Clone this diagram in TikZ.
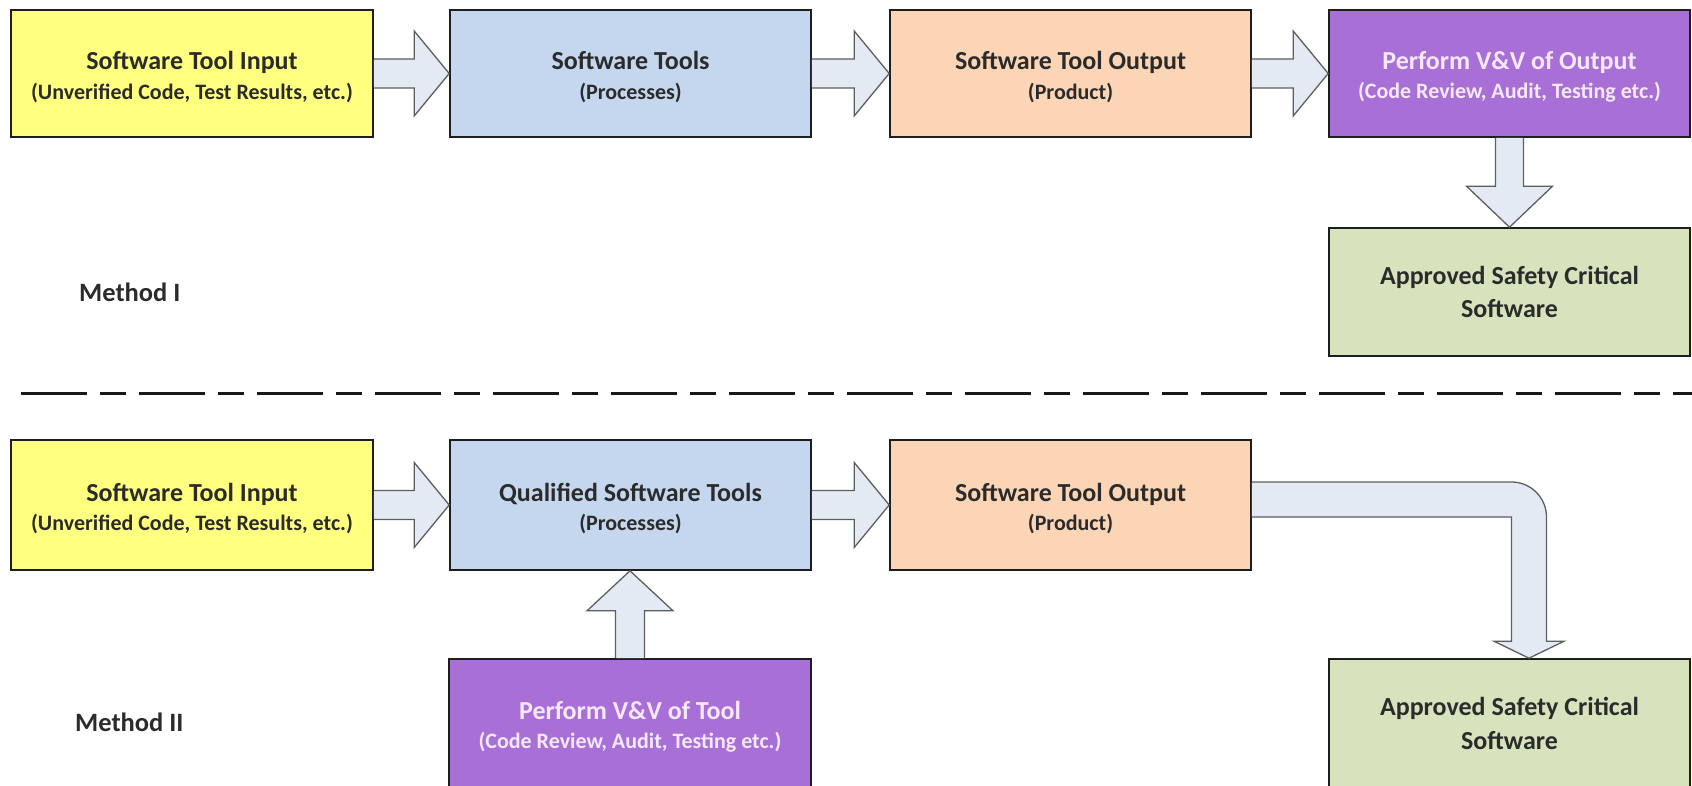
\documentclass[tikz,border=0pt]{standalone}
\usepackage{fontspec}
\setmainfont{Carlito}
\usetikzlibrary{calc}
\definecolor{cyel}{HTML}{FFFF80}
\definecolor{cblue}{HTML}{C5D7EE}
\definecolor{corange}{HTML}{FBD5B5}
\definecolor{cpurple}{HTML}{A86FD7}
\definecolor{cgreen}{HTML}{D7E3BC}
\definecolor{boxline}{HTML}{1E1E1E}
\definecolor{txt}{HTML}{2B2B2B}
\definecolor{wtxt}{HTML}{F5E8FA}
\definecolor{arrfill}{HTML}{E4EAF4}
\definecolor{arrline}{HTML}{5E5E5E}
\tikzset{
  box/.style={draw=boxline, line width=1.6pt, minimum width=362pt, minimum height=128pt,
    inner sep=0pt, align=center, text=txt, font=\bfseries\fontsize{26}{29.5}\selectfont},
  gbox/.style={box, font=\bfseries\fontsize{26}{33.5}\selectfont},
  barrow/.style={fill=arrfill, draw=arrline, line width=1.3pt, line join=miter},
  lbl/.style={anchor=west, inner sep=0pt, text=txt, font=\bfseries\fontsize{26.5}{31}\selectfont},
  sepline/.style={line width=3pt, black!90, dash pattern=on 66pt off 13pt on 26pt off 13pt}
}
\newcommand\subt[1]{{\fontsize{22}{29.5}\selectfont #1}}
\newcommand\tstrut{\rule{0pt}{25pt}}
\newcommand\hblock[2]{\draw[barrow] let \p1=(#1.east), \p2=(#2.west) in
  (\x1,\y1+14.5pt) -- (\x2-35pt,\y1+14.5pt) -- (\x2-35pt,\y1+42.5pt) -- (\x2,\y1)
  -- (\x2-35pt,\y1-42.5pt) -- (\x2-35pt,\y1-14.5pt) -- (\x1,\y1-14.5pt);}
\newcommand\vdownblock[2]{\draw[barrow] let \p1=(#1.south), \p2=(#2.north) in
  (\x1-14pt,\y1) -- (\x1-14pt,\y2+41pt) -- (\x1-43pt,\y2+41pt) -- (\x1,\y2)
  -- (\x1+43pt,\y2+41pt) -- (\x1+14pt,\y2+41pt) -- (\x1+14pt,\y1);}
\newcommand\vupblock[2]{\draw[barrow] let \p1=(#1.north), \p2=(#2.south) in
  (\x1-14.5pt,\y1) -- (\x1-14.5pt,\y2-40pt) -- (\x1-43pt,\y2-40pt) -- (\x1,\y2)
  -- (\x1+43pt,\y2-40pt) -- (\x1+14.5pt,\y2-40pt) -- (\x1+14.5pt,\y1);}
\begin{document}
\begin{tikzpicture}[x=1pt,y=-1pt]
\useasboundingbox (0,0) rectangle (1692,786);
\clip (0,0) rectangle (1692,786);
% Method I
\node[box, fill=cyel, minimum height=127pt] (a1) at (192,73.5) {\tstrut Software Tool Input\\\subt{(Unverified Code, Test Results, etc.)}};
\node[box, fill=cblue, minimum width=361pt, minimum height=127pt] (b1) at (630.5,73.5) {\tstrut Software Tools\\\subt{(Processes)}};
\node[box, fill=corange, minimum width=361pt, minimum height=127pt] (c1) at (1070.5,73.5) {\tstrut Software Tool Output\\\subt{(Product)}};
\node[box, fill=cpurple, text=wtxt, minimum width=361pt, minimum height=127pt] (d1) at (1509.5,73.5) {\tstrut Perform V\&V of Output\\\subt{(Code Review, Audit, Testing etc.)}};
\node[gbox, fill=cgreen, minimum width=361pt] (e1) at (1509.5,292) {Approved Safety Critical\\Software};
\node[lbl] (m1) at (79,292) {Method I};
\hblock{a1}{b1}
\hblock{b1}{c1}
\hblock{c1}{d1}
\vdownblock{d1}{e1}
% separator
\coordinate (s1) at (21,393);
\coordinate (s2) at (1700,393);
\draw[sepline] (s1) -- (s2);
% Method II
\node[box, fill=cyel, minimum height=130pt] (a2) at (192,505) {\tstrut Software Tool Input\\\subt{(Unverified Code, Test Results, etc.)}};
\node[box, fill=cblue, minimum width=361pt, minimum height=130pt] (b2) at (630.5,505) {\tstrut Qualified Software Tools\\\subt{(Processes)}};
\node[box, fill=corange, minimum width=361pt, minimum height=130pt] (c2) at (1070.5,505) {\tstrut Software Tool Output\\\subt{(Product)}};
\node[box, fill=cpurple, text=wtxt, minimum height=129pt] (d2) at (630,723.5) {\tstrut Perform V\&V of Tool\\\subt{(Code Review, Audit, Testing etc.)}};
\node[gbox, fill=cgreen, minimum width=361pt, minimum height=129pt] (e2) at (1509.5,723.5) {Approved Safety Critical\\Software};
\node[lbl] (m2) at (75,722) {Method II};
\hblock{a2}{b2}
\hblock{b2}{c2}
\vupblock{d2}{b2}
\coordinate (bt) at ($(e2.north)+(19.5,0)$);
\draw[barrow] let \p1=(c2.east), \p2=(bt) in
  (\x1,\y1+23pt) -- (\x2-17.5pt,\y1+23pt)
  .. controls (\x2+1.8pt,\y1+23pt) and (\x2+17.5pt,\y1+7.3pt) .. (\x2+17.5pt,\y1-12pt)
  -- (\x2+17.5pt,\y2+17pt) -- (\x2+35pt,\y2+17pt) -- (\x2,\y2)
  -- (\x2-35pt,\y2+17pt) -- (\x2-17.5pt,\y2+17pt) -- (\x2-17.5pt,\y1-12pt)
  -- (\x1,\y1-12pt);
\end{tikzpicture}
\end{document}
